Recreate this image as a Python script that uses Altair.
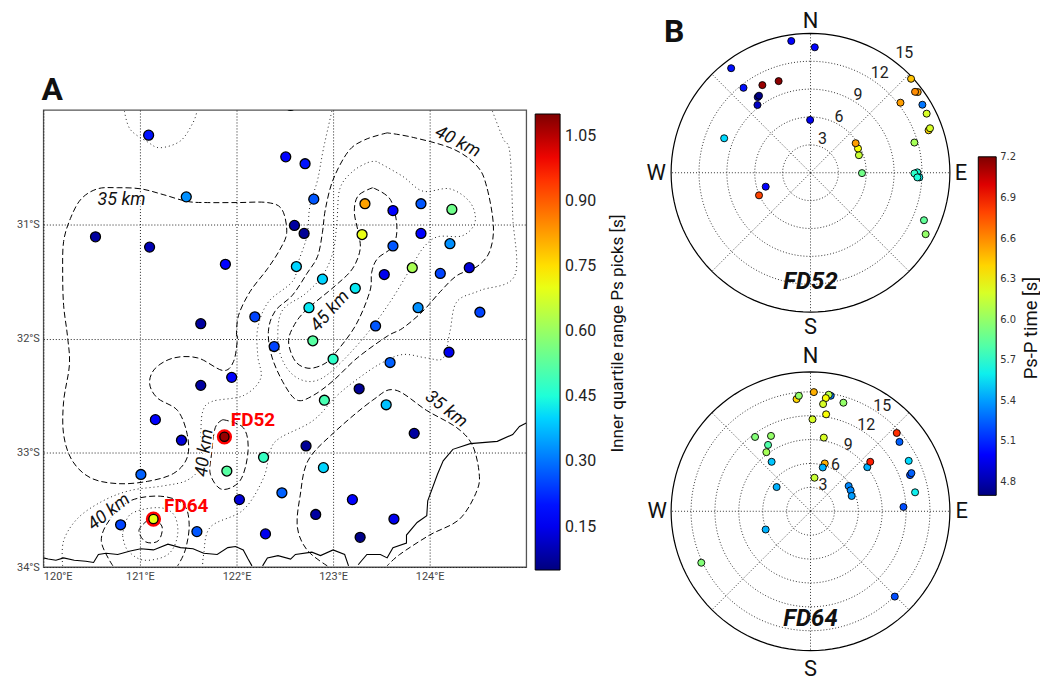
import math
import altair as alt
import pandas as pd

# ---------- station map ----------
st_lon = [121.09,121.48,120.54,121.10,121.885,122.19,121.63,122.51,122.71,122.80,122.60,122.70,122.62,122.89,122.75,123.23,
          123.33,123.62,123.91,124.23,123.30,123.91,123.62,124.21,123.53,123.82,124.11,124.41,123.88,123.44,124.52,122.79,
          123.00,123.59,124.20,123.27,122.91,123.55,123.84,122.72,122.90,122.47,123.20,122.82,123.63,123.28,
          122.39,121.95,121.63,121.16,121.43,121.90,122.28,121.01,122.03,120.80,121.59,122.30,122.56]
st_lat = [30.22,30.76,31.11,31.20,31.35,31.81,31.87,30.41,30.47,30.78,31.01,31.08,31.37,31.48,31.73,31.56,
          30.82,30.88,30.82,30.87,31.09,31.08,31.19,31.17,31.44,31.38,31.43,31.38,31.73,31.89,31.77,32.02,
          32.18,32.21,32.12,32.44,32.54,32.58,32.83,32.94,33.13,33.35,33.41,33.54,33.58,33.74,
          32.07,32.34,32.41,32.71,32.89,33.16,33.04,33.19,33.41,33.63,33.69,33.71,29.96]
st_iqr = [.20,.33,.08,.10,.18,.25,.08,.18,.20,.27,.08,.07,.40,.40,.42,.42,
          .82,.17,.27,.55,.70,.17,.27,.33,.15,.62,.25,.13,.33,.27,.25,.52,
          .47,.28,.15,.07,.50,.38,.08,.07,.40,.28,.17,.08,.15,.06,
          .25,.18,.08,.17,.13,.52,.48,.28,.13,.25,.27,.15,.42]
mark_names = ["FD52", "FD64"]
mark_lon = [121.875, 121.14]
mark_lat = [32.86, 33.58]
mark_iqr = [1.08, 0.70]
mark_lab_lon = [122.17, 121.48]
mark_lab_lat = [32.71, 33.47]

dashed = {
 "a": ([122.00,122.02,122.14,122.32,122.45,122.52,122.47,122.32,122.01,121.70,121.49,121.24,121.01,120.77,120.56,120.39,120.28,120.21,120.20,120.21,120.25,120.27,120.21,120.21,120.30,120.49,120.77,121.08,121.35,121.49,121.49,121.39,121.18,121.10,121.16,121.35,121.60,121.86,121.97,122.01,122.00],
       [31.98,31.80,31.59,31.39,31.22,31.07,30.87,30.81,30.81,30.81,30.80,30.74,30.69,30.68,30.69,30.78,30.95,31.15,31.42,31.71,31.98,32.23,32.55,32.84,33.07,33.22,33.27,33.25,33.18,33.04,32.84,32.63,32.52,32.39,32.26,32.17,32.17,32.28,32.20,32.00,31.98]),
 "b": ([123.56,123.33,123.16,123.00,122.92,122.89,122.84,122.73,122.58,122.40,122.33,122.37,122.50,122.63,122.79,123.00,123.25,123.56,123.72,123.93,124.11,124.28,124.49,124.62,124.66,124.59,124.49,124.24,123.83,123.56],
       [30.20,30.26,30.36,30.61,30.87,31.07,31.28,31.43,31.62,31.76,31.94,32.17,32.41,32.54,32.50,32.37,32.17,31.98,31.91,31.76,31.59,31.45,31.37,31.24,31.01,30.67,30.49,30.34,30.24,30.20]),
 "c": ([123.41,123.26,123.22,123.26,123.28,123.20,123.02,122.71,122.58,122.54,122.61,122.74,122.89,123.00,123.23,123.38,123.40,123.46,123.62,123.66,123.59,123.41],
       [30.68,30.75,30.89,31.07,31.22,31.39,31.54,31.76,31.91,32.04,32.20,32.26,32.23,32.15,31.89,31.59,31.42,31.30,31.19,31.01,30.78,30.68]),
 "d": ([122.94,122.73,122.63,122.66,122.74,123.00,123.41,123.64,123.97,124.28,124.44,124.51,124.49,124.31,124.00,123.69,123.56],
       [33.99,33.85,33.65,33.37,33.07,32.83,32.54,32.45,32.63,32.78,32.93,33.16,33.33,33.58,33.72,33.89,33.99]),
 "e": ([121.86,121.78,121.74,121.73,121.85,122.04,122.12,122.07,121.86],
       [32.71,32.78,33.02,33.19,33.32,33.24,32.98,32.78,32.71]),
 "f": ([120.72,120.60,120.70,120.90,121.21,121.45,121.51,121.47,121.39],
       [33.99,33.77,33.57,33.42,33.38,33.45,33.63,33.85,33.99]),
 "g": ([121.08,120.99,121.06,121.19,121.23,121.14,121.08],
       [33.59,33.68,33.78,33.77,33.65,33.58,33.59]),
}
dotted = {
 "h": ([120.82,120.90,121.18,121.35,121.39,121.29,121.04,120.87,120.82],
       [33.72,33.54,33.48,33.54,33.72,33.89,33.94,33.85,33.72]),
 "i": ([120.20,120.21,120.36,120.62,120.90,121.24,121.49,121.63,121.63,121.65,121.75,122.07,122.25,122.22,122.22,122.33,122.58,122.64,122.73,122.76,122.84,122.90,122.99],
       [33.99,33.77,33.57,33.42,33.33,33.29,33.24,33.11,32.87,32.64,32.55,32.50,32.35,32.15,31.91,31.68,31.50,31.33,31.10,30.84,30.61,30.34,30.00]),
 "j": ([123.45,123.36,123.20,123.07,123.04,123.00,122.89,122.71,122.47,122.43,122.50,122.64,122.82,123.02,123.33,123.59,123.80,123.93,124.08,124.34,124.47,124.42,124.21,123.93,123.72,123.45],
       [30.45,30.46,30.54,30.69,30.98,31.24,31.45,31.61,31.76,32.03,32.23,32.35,32.37,32.26,31.98,31.68,31.39,31.21,31.11,31.10,30.98,30.81,30.69,30.71,30.58,30.45]),
 "k": ([124.65,124.76,124.83,124.86,124.88,124.52,124.28,124.21,124.14,123.97,123.72,123.49,123.26,123.04,122.79,122.45,122.35,122.28,122.07,121.73,121.66,121.65],
       [30.01,30.25,30.37,30.93,31.45,31.58,31.68,31.94,32.17,32.17,32.14,32.22,32.35,32.50,32.72,32.87,32.98,33.22,33.50,33.65,33.89,33.99]),
 "l": ([120.84,120.90,121.08,121.21,121.42,121.55,121.59],
       [30.01,30.17,30.28,30.33,30.27,30.11,30.01]),
}
coast = {
 "s1": ([120.00,120.05,120.13,120.21,120.32,120.44,120.52,120.57,120.65,120.77,120.90,121.01,121.14,121.29,121.42,121.55,121.66,121.80,121.91,121.99,122.07,122.12,122.16],
        [33.92,33.93,33.94,33.92,33.94,33.95,33.96,33.89,33.88,33.89,33.86,33.84,33.85,33.80,33.83,33.84,33.88,33.89,33.83,33.82,33.85,33.93,33.99]),
 "s2": ([122.27,122.32,122.43,122.56,122.61,122.78,122.87,123.00,123.12,123.16],
        [33.99,33.92,33.90,33.93,33.89,33.87,33.90,33.85,33.89,33.99]),
 "s3": ([123.26,123.35,123.49,123.56,123.62,123.76,123.76,123.87,123.97,123.98,124.08,124.14,124.24,124.42,124.70,124.86,124.93,125.00],
        [33.98,33.89,33.89,33.92,33.83,33.79,33.72,33.61,33.55,33.42,33.19,33.07,32.97,32.92,32.90,32.84,32.77,32.74]),
}
clab_text = ["35 km", "40 km", "45 km", "35 km", "40 km", "40 km"]
clab_lon = [120.81, 124.29, 122.97, 124.17, 121.67, 120.68]
clab_lat = [30.79, 30.28, 31.76, 32.62, 33.00, 33.52]
clab_ang = [0, 27, 312, 38, 277, 322]

lon_ticks = [120, 121, 122, 123, 124]
lat_ticks = [31, 32, 33, 34]
iqr_ticks = [0.15, 0.30, 0.45, 0.60, 0.75, 0.90, 1.05]
iqr_domain = [0.05, 1.10]
pst_ticks = [4.8, 5.1, 5.4, 5.7, 6.0, 6.3, 6.6, 6.9, 7.2]
pst_domain = [4.7, 7.205]

# ---------- receiver functions, east / north slowness components ----------
fd52_e = [-2.07,.46,-8.54,-7.21,-5.18,-3.43,-5.68,-5.54,-5.71,-.04,-9.29,-4.82,-5.54,5.54,5.21,5.11,4.86,9.68,10.82,11.54,11.25,12.04,12.5,12.71,12.86,11.18,11.5,11.18,11.71,11.5,12.21,12.39]
fd52_n = [14.18,13.5,11.25,9.14,9.43,9.86,8.14,8.29,7.29,5.68,3.71,-1.5,-2.43,-.04,1.89,2.61,3.18,7.54,10.11,8.68,8.71,7.32,6.36,4.57,4.79,3.25,.04,-.07,-.5,-.5,-5.11,-6.61]
fd52_t = [5.0,5.02,5.05,5.05,7.15,7.18,4.82,4.72,4.85,4.95,5.55,5.0,6.8,5.9,6.15,6.3,6.55,6.55,6.45,6.55,6.6,5.3,6.2,6.4,6.2,6.05,5.65,5.7,5.6,5.65,5.85,6.0]
fd64_e = [-1.75,-1.46,.42,2.54,2.29,1.92,1.58,4.13,1.96,.25,1.67,-6.96,-4.96,-5.33,-5.54,-4.88,1.79,1.54,.5,-4.25,4.79,5.04,5.17,-5.63,-13.71,10.58,11.67,13.13,12.5,12.67,12.33,11.17,10.83,7.13,7.5]
fd64_n = [14.08,14.5,14.96,14.5,14.63,14.21,13.46,13.63,12.17,11.54,9.25,9.33,9.46,8.33,7.42,6.21,6.0,5.5,4.21,3.04,3.17,2.63,1.92,-2.29,-6.46,-10.71,.54,2.38,4.54,4.79,6.33,8.71,9.83,5.54,6.21]
fd64_t = [6.4,6.0,6.5,5.3,6.1,6.3,6.2,6.0,6.3,6.2,6.2,5.95,6.0,5.8,6.05,5.5,6.5,5.45,6.15,5.45,5.35,5.35,5.4,5.45,5.95,5.2,5.2,5.6,5.2,5.25,5.55,5.25,6.85,5.45,6.9]
fd52_rings = [3, 6, 9, 12]
fd64_rings = [3, 6, 9, 12, 15]
ring_labels = ["3", "6", "9", "12", "15"]
fd52_lab_e = [1.29, 3.07, 5.1, 7.46, 10.1]
fd52_lab_n = [3.6, 6.0, 8.39, 10.71, 12.89]
fd64_lab_e = [1.58, 3.13, 4.75, 7.0, 9.0]
fd64_lab_n = [3.33, 5.75, 8.33, 10.83, 13.25]
card_text = ["N", "E", "S", "W"]
card_az = [0, 90, 180, 270]

# ---------- jet colour ramp ----------
jet_t = [0, .11, .125, .34, .375, .64, .66, .89, .91, 1]
jet_c = ["#00007f", "#0000ff", "#0000ff", "#00dbff", "#19ffde", "#fbff04", "#ffe600", "#ff1200", "#e80000", "#7f0000"]


def jet(domain):
    return alt.Scale(domain=[domain[0] + t * (domain[1] - domain[0]) for t in jet_t], range=jet_c,
                     clamp=True, interpolate="rgb")


FONT = "Roboto"
MAP_W, MAP_H = 485, 459
POL_W, POL_H = 340, 326
BAR1_X, BAR1_Y, BAR1_T, BAR1_L = 494, 4, 25, 458
BAR2_X, BAR2_Y, BAR2_T, BAR2_L = 338.5, 147, 18, 340

x_map = alt.Scale(domain=[120, 125])
y_map = alt.Scale(domain=[34, 30])
x_axis = alt.Axis(values=lon_ticks, grid=True, gridDash=[1, 2], gridColor="#222", gridWidth=1, ticks=False, domain=False,
                  labelExpr="datum.value + '°E'", labelFont=FONT, labelFontSize=11, labelColor="#444", labelPadding=4, title=None)
y_axis = alt.Axis(values=lat_ticks, grid=True, gridDash=[1, 2], gridColor="#222", gridWidth=1, ticks=False, domain=False,
                  labelExpr="datum.value + '°S'", labelFont=FONT, labelFontSize=11, labelColor="#444", labelPadding=4, title=None)
xy = dict(x=alt.X("lon:Q", scale=x_map, axis=x_axis), y=alt.Y("lat:Q", scale=y_map, axis=y_axis))


def lines(table):
    rows = []
    for key, (xs, ys) in table.items():
        rows += [{"id": key, "i": i, "lon": a, "lat": b} for i, (a, b) in enumerate(zip(xs, ys))]
    return pd.DataFrame(rows)


def line_layer(table, interp, dash, width, color="black"):
    kw = {"strokeDash": dash} if dash else {}
    return alt.Chart(lines(table)).mark_line(clip=True, interpolate=interp, color=color, strokeWidth=width, **kw).encode(
        detail="id:N", order="i:Q", **xy)


st_df = pd.DataFrame({"lon": st_lon, "lat": st_lat, "iqr": st_iqr})
mk_df = pd.DataFrame({"name": mark_names, "lon": mark_lon, "lat": mark_lat, "iqr": mark_iqr,
                      "lx": mark_lab_lon, "ly": mark_lab_lat})
cl_df = pd.DataFrame({"t": clab_text, "lon": clab_lon, "lat": clab_lat, "a": clab_ang})

iqr_legend = alt.Legend(type="gradient", orient="none", legendX=BAR1_X, legendY=BAR1_Y, title=None,
                        direction="vertical", gradientLength=BAR1_L, gradientThickness=BAR1_T,
                        gradientStrokeColor="black", gradientStrokeWidth=1, values=iqr_ticks, format=".2f",
                        labelFont=FONT, labelFontSize=16, labelColor="#222", labelOffset=5, labelOverlap=False,
                        padding=0)
stations = alt.Chart(st_df).mark_circle(clip=True, size=100, opacity=1, stroke="black", strokeWidth=1.3).encode(
    color=alt.Color("iqr:Q", scale=jet(iqr_domain), legend=iqr_legend), **xy)
rings_red = alt.Chart(mk_df).mark_circle(size=235, opacity=1, color="#ff0000").encode(**xy)
marked = alt.Chart(mk_df).mark_circle(size=85, opacity=1, stroke="black", strokeWidth=1.3).encode(
    color=alt.Color("iqr:Q", scale=jet(iqr_domain), legend=None), **xy)
mark_text = alt.Chart(mk_df).mark_text(font=FONT, fontWeight="bold", fontSize=19, color="#ff0000").encode(
    x=alt.X("lx:Q", scale=x_map, axis=x_axis), y=alt.Y("ly:Q", scale=y_map, axis=y_axis), text="name:N")
c_halo = alt.Chart(cl_df).mark_text(font=FONT, fontStyle="italic", fontSize=18, color="white", stroke="white",
                                    strokeWidth=3).encode(text="t:N", angle=alt.Angle("a:Q", scale=None), **xy)
c_text = alt.Chart(cl_df).mark_text(font=FONT, fontStyle="italic", fontSize=18, color="#111").encode(
    text="t:N", angle=alt.Angle("a:Q", scale=None), **xy)


def bar_ticks(ticks, domain, x0, y0, thick, length):
    rows = [{"py": y0 + (domain[1] - v) / (domain[1] - domain[0]) * length,
             "x1": x0 + thick - 5, "x2": x0 + thick - 1} for v in ticks]
    return alt.Chart(pd.DataFrame(rows)).mark_rule(color="black", strokeWidth=1).encode(
        x=alt.X("x1:Q", scale=None, axis=None), x2="x2:Q", y=alt.Y("py:Q", scale=None, axis=None))


def side_title(text, px, py, size):
    return alt.Chart(pd.DataFrame({"t": [text], "px": [px], "py": [py]})).mark_text(
        font=FONT, fontSize=size, angle=270, color="#111").encode(
        text="t:N", x=alt.X("px:Q", scale=None, axis=None), y=alt.Y("py:Q", scale=None, axis=None))


map_layers = alt.layer(
    line_layer(coast, "linear", None, 1.1),
    line_layer(dashed, "cardinal", [6, 3], 1.0),
    line_layer(dotted, "cardinal", [1, 3], 1.0, "#222"),
    c_halo, c_text, stations, rings_red, marked, mark_text,
).properties(width=MAP_W, height=MAP_H, view=alt.ViewConfig(stroke="#555", strokeWidth=1.3))

# colour-bar ticks and title live in their own pixel-scaled layer over the map
overlay = alt.layer(
    bar_ticks(iqr_ticks, iqr_domain, BAR1_X, BAR1_Y, BAR1_T, BAR1_L),
    side_title("Inner quartile range Ps picks [s]", 577.5, 224.5, 17.2),
)
map_chart = alt.layer(map_layers, overlay).resolve_scale(x="independent", y="independent").properties(
    width=MAP_W, height=MAP_H)

spacer = alt.Chart(pd.DataFrame({"t": ["A"]})).mark_text(
    font=FONT, fontWeight="bold", fontSize=32, color="#111").encode(
    text="t:N", x=alt.value(9), y=alt.value(80)).properties(width=MAP_W, height=80)


def polar(es, ns, ts, title, title_n, outer, rings, lab_e, lab_n, legend, far_px, extra=None):
    unit = 140 / outer
    xs = alt.Scale(domain=[-POL_W / 2 / unit, POL_W / 2 / unit])
    ys = alt.Scale(domain=[-POL_H / 2 / unit, POL_H / 2 / unit])
    pxy = dict(x=alt.X("e:Q", scale=xs, axis=None), y=alt.Y("n:Q", scale=ys, axis=None))
    ring_rows = [{"r": r, "i": a, "e": r * math.sin(math.radians(a)), "n": r * math.cos(math.radians(a))}
                 for r in rings + [outer] for a in range(0, 361, 3)]
    rdf = pd.DataFrame(ring_rows)
    ring_d = alt.Chart(rdf[rdf.r != outer]).mark_line(color="#333", strokeWidth=1, strokeDash=[1, 2]).encode(
        detail="r:N", order="i:Q", **pxy)
    ring_o = alt.Chart(rdf[rdf.r == outer]).mark_line(color="black", strokeWidth=1.2).encode(order="i:Q", **pxy)
    sp = pd.DataFrame([{"e": 0.0, "n": 0.0, "e2": outer * math.sin(math.radians(a)),
                        "n2": outer * math.cos(math.radians(a))} for a in range(0, 360, 45)])
    spokes = alt.Chart(sp).mark_rule(color="#333", strokeWidth=1, strokeDash=[1, 2]).encode(x2="e2:Q", y2="n2:Q", **pxy)
    pts = alt.Chart(pd.DataFrame({"e": es, "n": ns, "t": ts})).mark_circle(
        size=50, opacity=1, stroke="black", strokeWidth=0.9).encode(
        color=alt.Color("t:Q", scale=jet(pst_domain), legend=legend), **pxy)
    rl = alt.Chart(pd.DataFrame({"e": lab_e, "n": lab_n, "s": ring_labels})).mark_text(
        font=FONT, fontSize=16, color="#222").encode(text="s:N", **pxy)
    far = [d / unit for d in far_px]
    cd = pd.DataFrame({"s": card_text, "e": [d * math.sin(math.radians(a)) for d, a in zip(far, card_az)],
                       "n": [d * math.cos(math.radians(a)) for d, a in zip(far, card_az)]})
    cl = alt.Chart(cd).mark_text(font=FONT, fontSize=22, color="#111").encode(text="s:N", **pxy)
    tl = alt.Chart(pd.DataFrame({"e": [0.0], "n": [title_n], "s": [title]})).mark_text(
        font=FONT, fontWeight="bold", fontStyle="italic", fontSize=24, color="#111").encode(text="s:N", **pxy)
    base = alt.layer(ring_d, spokes, ring_o, pts, rl, cl, tl).properties(width=POL_W, height=POL_H)
    if extra:
        return alt.layer(base, extra).resolve_scale(x="independent", y="independent").properties(width=POL_W, height=POL_H)
    return base


pst_legend = alt.Legend(type="gradient", orient="none", legendX=BAR2_X, legendY=BAR2_Y, title=None,
                        direction="vertical", gradientLength=BAR2_L, gradientThickness=BAR2_T,
                        gradientStrokeColor="black", gradientStrokeWidth=1, values=pst_ticks, format=".1f",
                        labelFont="DejaVu Sans", labelFontSize=10, labelColor="#333", labelOffset=4,
                        labelOverlap=False, padding=0)
letter_b = alt.Chart(pd.DataFrame({"t": ["B"]})).mark_text(
    font=FONT, fontWeight="bold", fontSize=32, color="#111").encode(text="t:N", x=alt.value(33), y=alt.value(22))
p1_extra = alt.layer(letter_b, bar_ticks(pst_ticks, pst_domain, BAR2_X, BAR2_Y, BAR2_T, BAR2_L),
                     side_title("Ps-P time [s]", 391, 319, 18.5))
p1 = polar(fd52_e, fd52_n, fd52_t, "FD52", -11.8, 15, fd52_rings, fd52_lab_e, fd52_lab_n, pst_legend,
           [152, 151, 155, 155], p1_extra)
p2 = polar(fd64_e, fd64_n, fd64_t, "FD64", -13.5, 17.5, fd64_rings, fd64_lab_e, fd64_lab_n, None,
           [156, 152, 158, 154])

left = alt.vconcat(spacer, map_chart, spacing=20, bounds="flush").resolve_scale(color="independent")
right = alt.vconcat(p1, p2, spacing=14, bounds="flush").resolve_scale(color="independent")
chart = alt.hconcat(left, right, spacing=600.5, bounds="flush").resolve_scale(color="independent").properties(
    padding={"left": 7.5, "top": 0, "right": 0, "bottom": 0}).configure_view(stroke=None)

chart.save("out.html", embed_options={"renderer": "svg", "actions": False})
